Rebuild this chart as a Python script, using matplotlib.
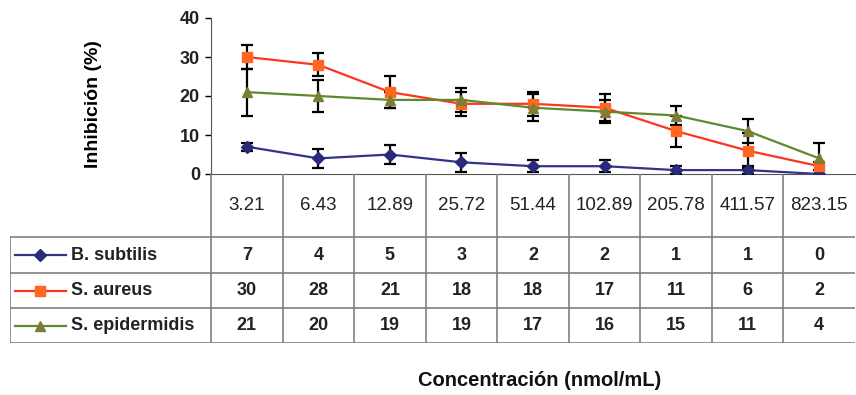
import matplotlib.pyplot as plt
import numpy as np

conc = ["3.21", "6.43", "12.89", "25.72", "51.44", "102.89", "205.78", "411.57", "823.15"]

subtilis = [7, 4, 5, 3, 2, 2, 1, 1, 0]
aureus = [30, 28, 21, 18, 18, 17, 11, 6, 2]
epidermidis = [21, 20, 19, 19, 17, 16, 15, 11, 4]

subtilis_err = [1, 2.5, 2.5, 2.5, 1.5, 1.5, 1, 1, 0]
aureus_err = [3, 3, 4, 3, 3, 3.5, 4, 4.5, 1]
epidermidis_err = [6, 4, 2, 3, 3.5, 3, 2.5, 3, 4]

names = ["B. subtilis", "S. aureus", "S. epidermidis"]
values = [subtilis, aureus, epidermidis]
errors = [subtilis_err, aureus_err, epidermidis_err]
line_colors = ["#333388", "#ff3322", "#5e8a2e"]
marker_colors = ["#2a2a7a", "#ff6622", "#7d7d35"]
markers = ["D", "s", "^"]

plt.rcParams["font.family"] = ["Liberation Sans", "DejaVu Sans"]

W, H = 856, 395
fig = plt.figure(figsize=(W / 100, H / 100), dpi=100)

# plot area (pixel box)
x0, x1, ytop, ybot = 211, 855, 18, 174
ax = fig.add_axes([x0 / W, 1 - ybot / H, (x1 - x0) / W, (ybot - ytop) / H])
x = np.arange(len(conc))
for vals, err, lc, mc, m in zip(values, errors, line_colors, marker_colors, markers):
    ax.errorbar(x, vals, yerr=err, color=lc, lw=1.6, marker=m, ms=6.5,
                mfc=mc, mec=mc, ecolor="black", elinewidth=1.6,
                capsize=4.5, capthick=1.6, zorder=3)
ax.set_xlim(-0.5, len(conc) - 0.5)
ax.set_ylim(0, 40)
ax.set_yticks([0, 10, 20, 30, 40])
ax.tick_params(axis="y", labelsize=13, length=4, width=1, pad=4)
for t in ax.get_yticklabels():
    t.set_fontweight("bold")
    t.set_color("#222222")
ax.set_xticks([])
for s in ["top", "right"]:
    ax.spines[s].set_visible(False)
ax.spines["left"].set_color("#555555")
ax.spines["bottom"].set_color("#555555")
ax.set_ylabel("Inhibición (%)", fontsize=14, fontweight="bold")
ax.yaxis.set_label_coords((102 - x0) / (x1 - x0), (ybot - 104) / (ybot - ytop))

# data table under the plot, sharing the same column positions
col_w = (x1 - x0) / len(conc)
tleft = 10
tab = fig.add_axes([tleft / W, 1 - 343 / H, (x1 - tleft) / W, (343 - ybot) / H])
xl = -0.5 - (x0 - tleft) / col_w
tab.set_xlim(xl, len(conc) - 0.5)
tab.set_ylim(343, ybot)
tab.axis("off")
grid = "#808080"
rows = [ybot, 237, 273, 308, 343]
for i in range(len(conc)):
    tab.plot([i - 0.5, i - 0.5], [ybot, 343], color=grid, lw=1.2)
    tab.text(i, (ybot + 237) / 2, conc[i], ha="center", va="center",
             fontsize=13.5, color="#222222")
tab.plot([xl, xl], [237, 343], color=grid, lw=1.2)
for r in rows[1:]:
    tab.plot([xl, len(conc) - 0.5], [r, r], color=grid, lw=1.2)


def px(p):
    return xl + (p - tleft) / col_w


for k, (name, vals) in enumerate(zip(names, values)):
    yc = (rows[k + 1] + rows[k + 2]) / 2
    tab.plot([px(15), px(66)], [yc, yc], color=line_colors[k], lw=1.6)
    tab.plot([px(40)], [yc], marker=markers[k], ms=6.5, color=marker_colors[k])
    tab.text(px(71), yc, name, ha="left", va="center", fontsize=13,
             fontweight="bold", color="#222222")
    for i, v in enumerate(vals):
        tab.text(i, yc, str(v), ha="center", va="center", fontsize=13,
                 fontweight="bold", color="#222222")

fig.text(540 / W, 1 - 381 / H, "Concentración (nmol/mL)", ha="center",
         va="center", fontsize=14.5, fontweight="bold", color="#111111")

fig.savefig("out.png", dpi=100)
